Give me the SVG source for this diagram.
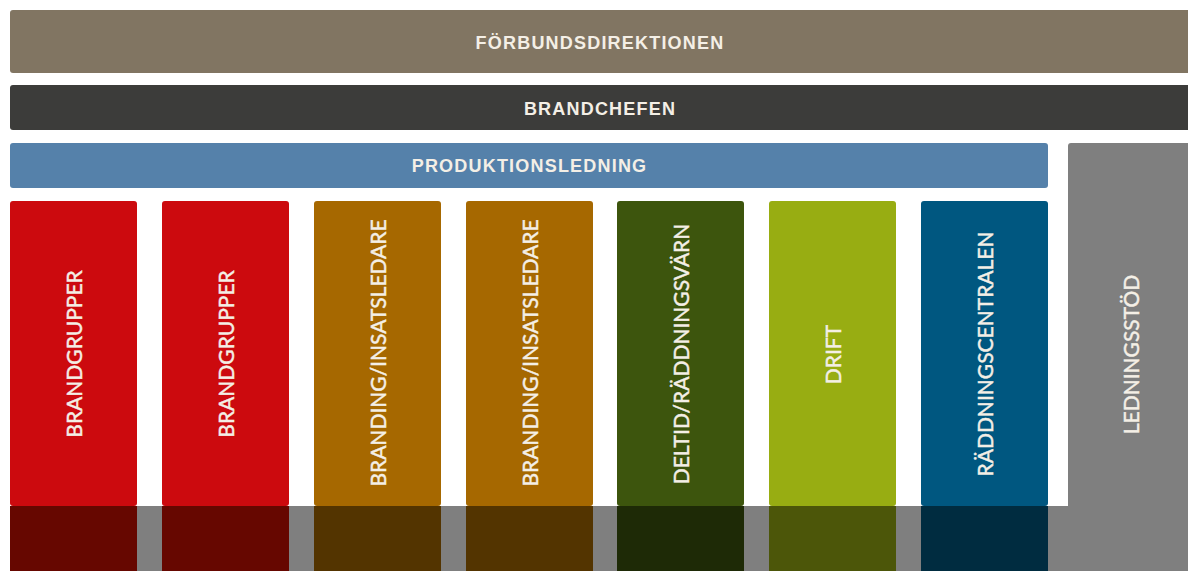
<svg xmlns="http://www.w3.org/2000/svg" width="1188" height="571" viewBox="0 0 1188 571">
<style>
.h{font-family:"Liberation Sans",Arial,sans-serif;font-weight:bold;font-size:18px;letter-spacing:1.2px;fill:#f4efe6;text-anchor:middle}
.v{font-family:Lato,"Open Sans",sans-serif;font-size:21px;fill:#f4efe6;stroke:#f4efe6;stroke-width:0.45px;text-anchor:middle}
</style>
<rect x="0" y="0" width="1188" height="571" fill="#ffffff"/>
<g id="forbundsdirektionen">
<rect x="10" y="10" width="1185" height="63" rx="3" fill="#817562"/>
<text class="h" x="600" y="48.5">FÖRBUNDSDIREKTIONEN</text>
</g>
<g id="brandchefen">
<rect x="10" y="85" width="1185" height="45" rx="3" fill="#3c3c3a"/>
<text class="h" x="600" y="114.5">BRANDCHEFEN</text>
</g>
<g id="produktionsledning">
<rect x="10" y="143" width="1038" height="45" rx="3" fill="#5581aa"/>
<text class="h" x="529.5" y="171.5">PRODUKTIONSLEDNING</text>
</g>
<g id="overlay">
<rect x="10" y="506" width="1058" height="65" fill="#000000" fill-opacity="0.5"/>
</g>
<g id="ledningsstod">
<rect x="1068" y="143" width="125" height="440" rx="3" fill="#7f7f7f"/>
<text class="v" transform="translate(1138.5,354.5) rotate(-90)">LEDNINGSSTÖD</text>
</g>
<g id="brandgrupper1">
<rect x="10" y="201" width="127" height="305" rx="3" fill="#cc0a0e"/>
<rect x="10" y="506" width="127" height="65" fill="#660700"/>
<text class="v" transform="translate(82,354) rotate(-90)">BRANDGRUPPER</text>
</g>
<g id="brandgrupper2">
<rect x="162" y="201" width="127" height="305" rx="3" fill="#cc0a0e"/>
<rect x="162" y="506" width="127" height="65" fill="#660700"/>
<text class="v" transform="translate(234,354) rotate(-90)">BRANDGRUPPER</text>
</g>
<g id="branding1">
<rect x="314" y="201" width="127" height="305" rx="3" fill="#a66800"/>
<rect x="314" y="506" width="127" height="65" fill="#533400"/>
<text class="v" transform="translate(386,353) rotate(-90)">BRANDING/INSATSLEDARE</text>
</g>
<g id="branding2">
<rect x="466" y="201" width="127" height="305" rx="3" fill="#a66800"/>
<rect x="466" y="506" width="127" height="65" fill="#533400"/>
<text class="v" transform="translate(538,353) rotate(-90)">BRANDING/INSATSLEDARE</text>
</g>
<g id="deltid">
<rect x="617" y="201" width="127" height="305" rx="3" fill="#3d550d"/>
<rect x="617" y="506" width="127" height="65" fill="#1e2a06"/>
<text class="v" transform="translate(689,354) rotate(-90)">DELTID/RÄDDNINGSVÄRN</text>
</g>
<g id="drift">
<rect x="769" y="201" width="127" height="305" rx="3" fill="#98ad12"/>
<rect x="769" y="506" width="127" height="65" fill="#4c5609"/>
<text class="v" transform="translate(841,354.5) rotate(-90)">DRIFT</text>
</g>
<g id="raddningscentralen">
<rect x="921" y="201" width="127" height="305" rx="3" fill="#005780"/>
<rect x="921" y="506" width="127" height="65" fill="#002c40"/>
<text class="v" transform="translate(993,354) rotate(-90)">RÄDDNINGSCENTRALEN</text>
</g>
</svg>
